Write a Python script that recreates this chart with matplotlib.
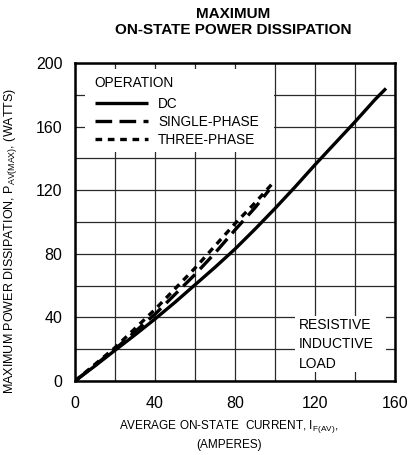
import matplotlib
matplotlib.use("Agg")
import matplotlib.pyplot as plt
from matplotlib.patches import Rectangle
import numpy as np

plt.rcParams['font.family'] = ['Liberation Sans', 'DejaVu Sans']
plt.rcParams['mathtext.fontset'] = 'custom'
plt.rcParams['mathtext.rm'] = 'Liberation Sans'
plt.rcParams['mathtext.it'] = 'Liberation Sans'

dc_x = [0, 10, 20, 30, 40, 50, 60, 70, 80, 90, 100, 110, 120, 130, 140, 150, 155.5]
dc_y = [0, 9.5, 19.3, 29, 39, 49.5, 60.5, 71.5, 83, 95.5, 108.5, 122, 136, 149.5, 163, 177, 184]
single_x = [0, 10, 20, 30, 40, 50, 60, 70, 80, 90, 97]
single_y = [0, 10, 20, 31, 42, 54.5, 67, 80.5, 95, 109, 120]
three_x = [0, 10, 20, 30, 40, 50, 60, 70, 80, 90, 100]
three_y = [0, 10.5, 21, 33, 45, 58, 71, 85, 99, 112, 126]

xticks = [0, 40, 80, 120, 160]
yticks = [0, 40, 80, 120, 160, 200]

W, H = 409, 455
fig = plt.figure(figsize=(W/100, H/100), dpi=100)
L, R, T, B = 75, 395, 63, 381
ax = fig.add_axes([L/W, 1-B/H, (R-L)/W, (B-T)/H])

def ax_box(x0, y0, x1, y1):
    # pixel box -> axes fraction rectangle
    return ((x0-L)/(R-L), (B-y1)/(B-T), (x1-x0)/(R-L), (y1-y0)/(B-T))

ax.plot(dc_x, dc_y, color='black', lw=2.4, label='DC', solid_capstyle='butt', zorder=3)
ax.plot(single_x, single_y, color='black', lw=2.4, dashes=(5, 2.2), label='SINGLE-PHASE', zorder=3)
ax.plot(three_x, three_y, color='black', lw=2.4, dashes=(2, 1.7), label='THREE-PHASE', zorder=3)

ax.set_xlim(0, 160)
ax.set_ylim(0, 200)
ax.set_xticks(xticks)
ax.set_yticks(yticks)
ax.set_xticks(np.arange(0, 161, 20), minor=True)
ax.set_yticks(np.arange(0, 201, 20), minor=True)
ax.grid(True, which='both', color='#2a2a2a', lw=0.9, zorder=0)
ax.set_axisbelow(True)
ax.tick_params(axis='both', which='both', length=0, labelsize=11.5)
ax.tick_params(axis='y', pad=9)
ax.tick_params(axis='x', pad=11)
for s in ax.spines.values():
    s.set_linewidth(1.8)
    s.set_zorder(5)

# white backgrounds hiding grid behind legend and note
x, y, w, h = ax_box(85, 69, 274, 152)
ax.add_patch(Rectangle((x, y), w, h, transform=ax.transAxes, facecolor='white', edgecolor='none', zorder=1))
x, y, w, h = ax_box(295, 316, 386, 372)
ax.add_patch(Rectangle((x, y), w, h, transform=ax.transAxes, facecolor='white', edgecolor='none', zorder=1))

fig.text(229/W, 1-418/H, 'AVERAGE ON-STATE  CURRENT, I$_{\\mathrm{F(AV)}}$,\n(AMPERES)',
         ha='center', va='top', fontsize=8.5, linespacing=1.45, multialignment='center')
fig.text(11/W, 1-241/H, 'MAXIMUM POWER DISSIPATION, P$_{\\mathrm{AV(MAX)}}$, (WATTS)',
         ha='center', va='center', rotation=90, fontsize=9)

fig.text(233/W, 1-22/H, 'MAXIMUM\nON-STATE POWER DISSIPATION', ha='center', va='center',
         fontsize=11, fontweight='bold', linespacing=1.1)

leg = ax.legend(loc='upper left', bbox_to_anchor=((92-L)/(R-L), (B-73)/(B-T)),
                title='OPERATION', fontsize=9.8, title_fontsize=9.8,
                frameon=False, handlelength=3.9, borderaxespad=0.0, borderpad=0.2,
                labelspacing=0.3, handletextpad=0.75, alignment='left')
leg.set_zorder(4)
leg._legend_box.sep = 5

ax.text((299-L)/(R-L), (B-318)/(B-T), 'RESISTIVE\nINDUCTIVE\nLOAD', transform=ax.transAxes,
        ha='left', va='top', fontsize=10, linespacing=1.48, zorder=4)

fig.savefig('out.png', dpi=100)
